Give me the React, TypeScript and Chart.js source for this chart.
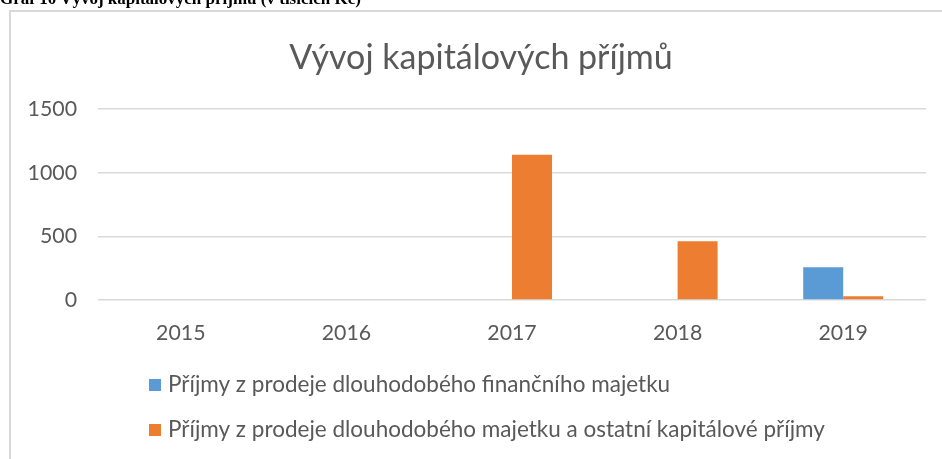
import React, { useEffect, useRef } from "react";
import { Chart, registerables } from "chart.js";

Chart.register(...registerables);

const categories = ["2015", "2016", "2017", "2018", "2019"];
const seriesNames = [
  "Příjmy z prodeje dlouhodobého finančního majetku",
  "Příjmy z prodeje dlouhodobého majetku a ostatní kapitálové příjmy",
];
const financni = [0, 0, 0, 0, 258];
const ostatni = [0, 0, 1140, 461, 30];
const seriesColors = ["#5B9BD5", "#ED7D31"];
const titleText = "Vývoj kapitálových příjmů";
const captionText = "Graf 10 Vývoj kapitálových příjmů (v tisících Kč)";

const FONT = "Lato, 'Noto Sans', sans-serif";
const GRAY = "#595959";

const decorPlugin = {
  id: "decor",
  afterDraw(chart: any) {
    const { ctx, chartArea } = chart;
    ctx.save();
    // title
    ctx.font = `34px ${FONT}`;
    ctx.fillStyle = GRAY;
    ctx.textAlign = "center";
    ctx.textBaseline = "middle";
    ctx.fillText(titleText, chart.width / 2 + 10, 58);
    // legend
    ctx.font = `22.5px ${FONT}`;
    ctx.textAlign = "left";
    chart.data.datasets.forEach((ds: any, i: number) => {
      const y = chartArea.bottom + 85 + i * 45;
      const x = chartArea.left + 51;
      ctx.fillStyle = ds.backgroundColor;
      ctx.fillRect(x, y - 6, 12, 12);
      ctx.fillStyle = GRAY;
      ctx.fillText(ds.label, x + 19, y);
    });
    ctx.restore();
  },
};

export default function App() {
  const ref = useRef<HTMLCanvasElement>(null);
  useEffect(() => {
    if (!ref.current) return;
    const chart = new Chart(ref.current, {
      type: "bar",
      data: {
        labels: categories,
        datasets: [
          { label: seriesNames[0], data: financni, backgroundColor: seriesColors[0] },
          { label: seriesNames[1], data: ostatni, backgroundColor: seriesColors[1] },
        ],
      },
      options: {
        responsive: false,
        devicePixelRatio: 1,
        animation: false,
        datasets: { bar: { categoryPercentage: 0.483, barPercentage: 1 } },
        layout: { padding: { left: 0, right: 16, top: 109, bottom: 114 } },
        plugins: {
          legend: { display: false },
          tooltip: { enabled: false },
          title: { display: false },
        },
        scales: {
          x: {
            grid: { display: false, drawTicks: false },
            border: { display: false },
            ticks: { color: GRAY, font: { family: FONT, size: 21.3 }, padding: 20 },
            afterFit: (s: any) => {
              s.height = 45;
            },
          },
          y: {
            min: 0,
            max: 1500,
            ticks: {
              stepSize: 500,
              color: GRAY,
              font: { family: FONT, size: 21.3 },
              padding: 21,
              callback: (v: any) => String(v),
            },
            grid: { color: "#d9d9d9", lineWidth: 1.5, drawTicks: false },
            border: { display: false },
            afterFit: (s: any) => {
              s.width = 98;
            },
          },
        },
      },
      plugins: [decorPlugin],
    });
    return () => chart.destroy();
  }, []);

  return (
    <div>
      <div
        style={{
          position: "fixed",
          left: 0,
          top: -11,
          fontFamily: "'Liberation Serif', 'Times New Roman', serif",
          fontWeight: "bold",
          fontSize: 17,
          whiteSpace: "nowrap",
          color: "#000",
        }}
      >
        {captionText}
      </div>
      <div
        style={{
          position: "fixed",
          left: 9,
          top: 10,
          width: 944,
          height: 520,
          border: "2px solid #d9d9d9",
          boxSizing: "border-box",
        }}
      />
      <canvas
        ref={ref}
        width={942}
        height={459}
        style={{ position: "fixed", left: 0, top: 0, width: 942, height: 459 }}
      />
    </div>
  );
}
